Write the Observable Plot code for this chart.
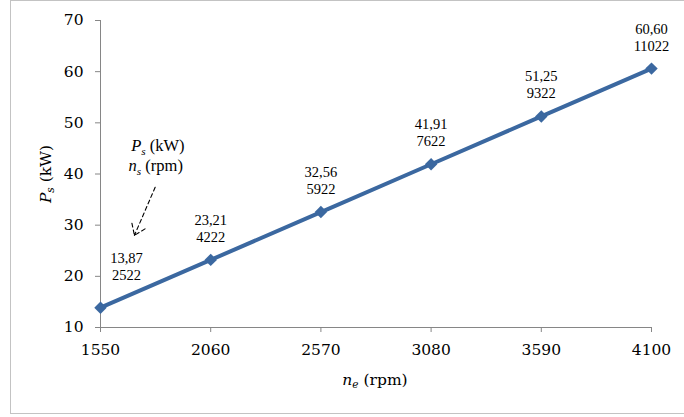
<!DOCTYPE html>
<html><head><meta charset="utf-8">
<script src="https://cdn.jsdelivr.net/npm/d3@7"></script>
<script src="https://cdn.jsdelivr.net/npm/@observablehq/plot@0.6"></script>
<style>
html,body{margin:0;padding:0;background:#fff;overflow:hidden;}
#wrap{position:relative;width:684px;height:417px;overflow:hidden;}
#frame{position:absolute;left:10px;top:0;width:700px;height:414px;border:1px solid #c3c3c3;box-sizing:border-box;}
#wrap svg{position:absolute;left:0;top:0;}
</style></head><body><div id="wrap"><div id="frame"></div></div>
<script>
// Data
const speedsNe = [1550, 2060, 2570, 3080, 3590, 4100];
const powerPs = [13.87, 23.21, 32.56, 41.91, 51.25, 60.60];
const speedsNs = [2522, 4222, 5922, 7622, 9322, 11022];
const powerLabels = ["13,87", "23,21", "32,56", "41,91", "51,25", "60,60"];
const xTicks = [1550, 2060, 2570, 3080, 3590, 4100];
const yTicks = [10, 20, 30, 40, 50, 60, 70];

// Label nudges (styling)
const labelDx = [26, 0, 0, 0, 0, 0];
const labelDy = [-42, -32, -32, -32, -32, -32];

const data = speedsNe.map((ne, i) => ({ne, ps: powerPs[i], ns: speedsNs[i], label: powerLabels[i] + "\n" + speedsNs[i]}));

const blue = "#3B68A0";
const axisGray = "#868686";

const plot = Plot.plot({
  width: 684, height: 417,
  marginLeft: 100, marginRight: 33, marginTop: 20, marginBottom: 90,
  style: {fontFamily: "DejaVu Serif", fontSize: "15.5px", color: "#000", background: "transparent"},
  x: {domain: [1550, 4100]},
  y: {domain: [10, 70]},
  marks: [
    Plot.ruleX([1550], {stroke: axisGray}),
    Plot.ruleY([10], {stroke: axisGray}),
    Plot.axisX({ticks: xTicks, tickSize: 5, tickPadding: 11, tickFormat: d => String(d), label: null, stroke: axisGray, fill: "#000"}),
    Plot.axisY({ticks: yTicks, tickSize: 5, tickPadding: 12, tickFormat: d => String(d), label: null, stroke: axisGray, fill: "#000"}),
    Plot.line(data, {x: "ne", y: "ps", stroke: blue, strokeWidth: 4}),
    Plot.dot(data, {x: "ne", y: "ps", symbol: "diamond2", r: 5.6, fill: blue, stroke: "none"}),
    ...data.map((d, i) => Plot.text([d], {x: "ne", y: "ps", text: "label", dx: labelDx[i], dy: labelDy[i],
      fontFamily: "Liberation Serif", fontSize: 14.5, lineHeight: 1.17, lineAnchor: "middle", fill: "#000"})),
    Plot.arrow([{x1: 1803, y1: 37.4, x2: 1707, y2: 28.0}], {x1: "x1", y1: "y1", x2: "x2", y2: "y2",
      stroke: "#000", strokeWidth: 1.1, strokeDasharray: "4,3", headLength: 17, headAngle: 70, bend: 0})
  ]
});
document.getElementById("wrap").appendChild(plot);

const svg = d3.select(plot);
const sx = plot.scale("x"), sy = plot.scale("y");

function rich(x, y, parts, font, size, rotate) {
  const t = svg.append("text")
    .attr("font-family", font).attr("font-size", size).attr("fill", "#000")
    .attr("text-anchor", "middle");
  if (rotate) t.attr("transform", `translate(${x},${y}) rotate(-90)`);
  else t.attr("x", x).attr("y", y);
  t.attr("dominant-baseline", "middle");
  let shift = 0;
  parts.forEach(p => {
    const ts = t.append("tspan").text(p.t);
    if (p.i) ts.attr("font-style", "italic");
    if (p.sub) {
      const sub = size * 0.28;
      ts.attr("font-size", size * 0.68).attr("dy", sub - shift);
      shift = sub;
    } else if (shift) {
      ts.attr("dy", -shift);
      shift = 0;
    }
  });
  return t;
}

// Axis titles
rich(375, 381, [{t: "n", i: 1}, {t: "e", i: 1, sub: 1}, {t: " (rpm)"}], "DejaVu Serif", 15.5);
rich(47, 174, [{t: "P", i: 1}, {t: "s", i: 1, sub: 1}, {t: " (kW)"}], "DejaVu Serif", 15.5, true);

// Annotation legend for data labels
rich(sx.apply(1818), sy.apply(45.2), [{t: "P", i: 1}, {t: "s", i: 1, sub: 1}, {t: " (kW)"}], "Liberation Serif", 16.5);
rich(sx.apply(1808), sy.apply(41.2), [{t: "n", i: 1}, {t: "s", i: 1, sub: 1}, {t: " (rpm)"}], "Liberation Serif", 16.5);
</script></body></html>
